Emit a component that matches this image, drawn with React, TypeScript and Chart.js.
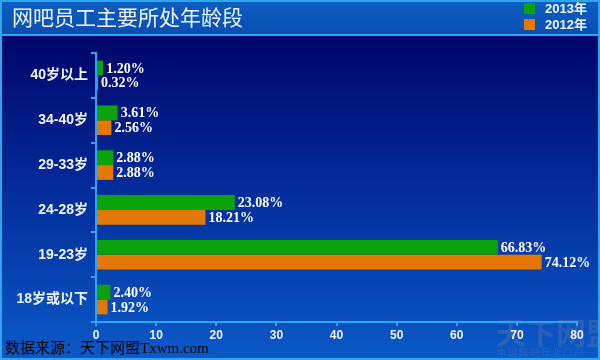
import { useEffect, useRef } from 'react';
import { Chart, registerables } from 'chart.js';
Chart.register(...registerables);

const categories = ['40岁以上', '34-40岁', '29-33岁', '24-28岁', '19-23岁', '18岁或以下'];
const series2013 = [1.2, 3.61, 2.88, 23.08, 66.83, 2.4];
const series2012 = [0.32, 2.56, 2.88, 18.21, 74.12, 1.92];
const seriesNames = ['2013年', '2012年'];
const seriesColors = ['#0ca20c', '#e47806'];
const xMax = 80;
const xStep = 10;
const titleText = '网吧员工主要所处年龄段';
const sourceText = '数据来源：天下网盟Txwm.com';
const watermarkBig = '天下网盟';
const watermarkSmall = '中 国 网 吧 行 业 门 户';

const SANS = '"Liberation Sans", Arial, "Noto Sans CJK SC", sans-serif';
const SERIF = '"Liberation Serif", "Times New Roman", "Noto Sans CJK SC", serif';

const decor = {
  id: 'decor',
  beforeDraw(chart: any) {
    const ctx = chart.ctx;
    const W = chart.width;
    const H = chart.height;
    ctx.save();
    const g = ctx.createLinearGradient(0, 36, 0, H);
    g.addColorStop(0, '#00056a');
    g.addColorStop(0.45, '#032a98');
    g.addColorStop(1, '#0a5ac8');
    ctx.fillStyle = g;
    ctx.fillRect(0, 0, W, H);
    const tg = ctx.createLinearGradient(0, 0, 0, 34);
    tg.addColorStop(0, '#0c5ec2');
    tg.addColorStop(1, '#0a4fb2');
    ctx.fillStyle = tg;
    ctx.fillRect(0, 0, W, 34);
    ctx.fillStyle = '#2ea6ee';
    ctx.fillRect(0, 34, W, 2);
    // watermark
    ctx.fillStyle = 'rgba(110,120,170,0.35)';
    ctx.font = `bold 30px "Noto Sans CJK SC", sans-serif`;
    ctx.textBaseline = 'middle';
    ctx.textAlign = 'left';
    ctx.fillText(watermarkBig, 496, 333);
    ctx.font = `9px "Noto Sans CJK SC", sans-serif`;
    ctx.fillStyle = 'rgba(110,120,170,0.35)';
    ctx.fillText(watermarkSmall, 497, 353);
    ctx.restore();
  },
  afterDatasetsDraw(chart: any) {
    const ctx = chart.ctx;
    ctx.save();
    ctx.font = `bold 14px ${SERIF}`;
    ctx.fillStyle = '#ffffff';
    ctx.textAlign = 'left';
    ctx.textBaseline = 'middle';
    chart.data.datasets.forEach((ds: any, i: number) => {
      const meta = chart.getDatasetMeta(i);
      meta.data.forEach((bar: any, j: number) => {
        const v = ds.data[j];
        ctx.fillText(v.toFixed(2) + '%', bar.x + 3, bar.y + 1);
      });
    });
    ctx.restore();
  },
  afterDraw(chart: any) {
    const ctx = chart.ctx;
    const W = chart.width;
    const H = chart.height;
    ctx.save();
    // title
    ctx.fillStyle = '#eef3ff';
    ctx.font = `21px "Noto Sans CJK SC", sans-serif`;
    ctx.textAlign = 'left';
    ctx.textBaseline = 'middle';
    ctx.fillText(titleText, 12, 17);
    // legend
    chart.data.datasets.forEach((ds: any, i: number) => {
      const y = 8 + i * 16;
      ctx.fillStyle = ds.backgroundColor;
      ctx.fillRect(524, y - 5, 11, 11);
      ctx.fillStyle = '#eef3ff';
      ctx.font = `bold 13px ${SANS}`;
      ctx.fillText(ds.label, 545, y + 1);
    });
    // source
    ctx.fillStyle = '#000000';
    ctx.font = `15px ${SERIF}`;
    ctx.fillText(sourceText, 5, 349);
    // border
    ctx.strokeStyle = '#2ea6ee';
    ctx.lineWidth = 2;
    ctx.strokeRect(1, 1, W - 2, H - 2);
    ctx.restore();
  },
};

export default function App() {
  const ref = useRef<HTMLCanvasElement>(null);
  useEffect(() => {
    if (!ref.current) return;
    const chart = new Chart(ref.current, {
      type: 'bar',
      data: {
        labels: categories,
        datasets: [
          { label: seriesNames[0], data: series2013, backgroundColor: seriesColors[0], categoryPercentage: 0.66, barPercentage: 1.0 },
          { label: seriesNames[1], data: series2012, backgroundColor: seriesColors[1], categoryPercentage: 0.66, barPercentage: 1.0 },
        ],
      },
      options: {
        indexAxis: 'y',
        animation: false,
        responsive: false,
        devicePixelRatio: 1,
        layout: { padding: { left: 0, right: 23, top: 53, bottom: 0 } },
        plugins: { legend: { display: false }, title: { display: false }, tooltip: { enabled: false } },
        scales: {
          x: {
            min: 0,
            max: xMax,
            afterFit: (s: any) => { s.height = 38; },
            ticks: { stepSize: xStep, color: '#eef3ff', font: { family: SANS, size: 12, weight: 'bold' }, padding: 2 },
            grid: { drawOnChartArea: false, drawTicks: true, tickLength: 4, color: '#2aa6ee', lineWidth: 2 },
            border: { color: '#2aa6ee', width: 2 },
          },
          y: {
            afterFit: (s: any) => { s.width = 96; },
            ticks: { color: '#eef3ff', font: { family: SANS, size: 14, weight: 'bold' }, padding: 3 },
            grid: { drawOnChartArea: false, drawTicks: true, tickLength: 5, color: '#2aa6ee', lineWidth: 2 },
            border: { color: '#2aa6ee', width: 2 },
          },
        },
      },
      plugins: [decor],
    });
    return () => chart.destroy();
  }, []);
  return (
    <div style={{ position: 'absolute', left: 0, top: 0, width: 600, height: 360 }}>
      <canvas ref={ref} width={600} height={360} />
    </div>
  );
}
